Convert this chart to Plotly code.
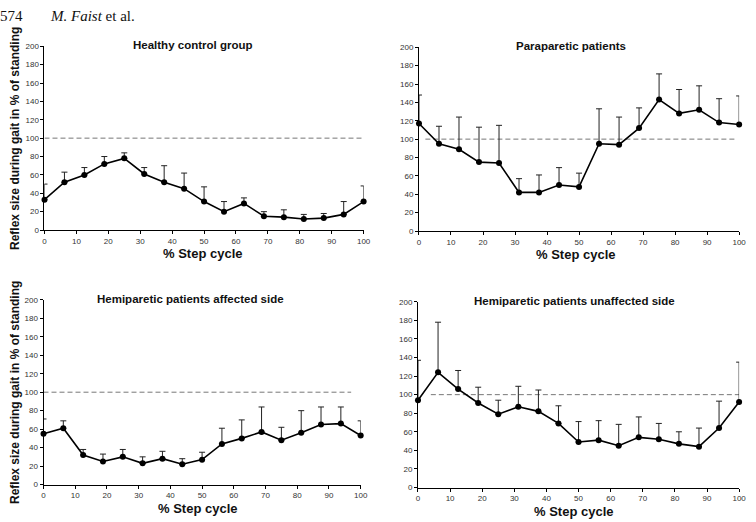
import plotly.graph_objects as go

step = [0, 6.25, 12.5, 18.75, 25, 31.25, 37.5, 43.75, 50, 56.25, 62.5, 68.75, 75, 81.25, 87.5, 93.75, 100]

healthy_mean = [33, 52, 60, 72, 78, 61, 52, 45, 31, 20, 29, 15, 14, 12, 13, 17, 31]
healthy_upper = [50, 63, 68, 80, 84, 68, 70, 62, 47, 31, 35, 20, 22, 17, 18, 31, 48]

para_mean = [117, 95, 89, 75, 74, 42, 42, 50, 48, 95, 94, 112, 143, 128, 132, 118, 116]
para_upper = [148, 114, 124, 113, 115, 57, 61, 69, 63, 133, 124, 134, 171, 154, 158, 144, 147]

hemi_aff_mean = [55, 61, 32, 25, 30, 23, 28, 22, 27, 44, 50, 57, 48, 56, 65, 66, 53]
hemi_aff_upper = [71, 69, 38, 33, 38, 30, 36, 28, 35, 61, 70, 84, 62, 80, 84, 84, 69]

hemi_unaff_mean = [94, 124, 106, 91, 79, 87, 82, 69, 49, 51, 45, 54, 52, 47, 44, 64, 92]
hemi_unaff_upper = [137, 178, 126, 108, 94, 109, 105, 88, 71, 72, 68, 76, 69, 60, 64, 93, 135]

panel_titles = ["Healthy control group", "Paraparetic patients",
                "Hemiparetic patients affected side", "Hemiparetic patients unaffected side"]
x_title = "% Step cycle"
y_title = "Reflex size during gait in % of standing"
x_ticks = [0, 10, 20, 30, 40, 50, 60, 70, 80, 90, 100]
y_ticks = [0, 20, 40, 60, 80, 100, 120, 140, 160, 180, 200]
reference_level = 100

W, H = 756, 522
# pixel boxes: left, right, top, bottom
boxes = [(43, 366, 43, 230), (422, 746, 44, 231), (42, 363, 301, 489), (421, 746, 303, 492)]
title_cx = [193, 576, 191, 579]
xtitle_cx = [203, 581, 198, 579]
series = [(healthy_mean, healthy_upper), (para_mean, para_upper),
          (hemi_aff_mean, hemi_aff_upper), (hemi_unaff_mean, hemi_unaff_upper)]
dash_ranges = [(0, 100), (2, 99), (0, 97), (4, 100)]

fig = go.Figure()
layout = dict(width=W, height=H, margin=dict(l=0, r=0, t=0, b=0),
              paper_bgcolor="white", plot_bgcolor="white", showlegend=False)
annotations = []
FONT = "Liberation Sans, Arial, sans-serif"

for i, ((l, r, t, b), (m, u), title, dr) in enumerate(zip(boxes, series, panel_titles, dash_ranges)):
    n = "" if i == 0 else str(i + 1)
    xa, ya = "x" + n, "y" + n
    layout["xaxis" + n] = dict(domain=[l / W, r / W], range=[0, 100], anchor=ya,
                               tickvals=x_ticks, ticks="outside", ticklen=3, tickwidth=1,
                               tickcolor="black", showline=True, linecolor="black", linewidth=1,
                               showgrid=False, zeroline=False,
                               tickfont=dict(family=FONT, size=8, color="#333"))
    layout["yaxis" + n] = dict(domain=[1 - b / H, 1 - t / H], range=[0, 200], anchor=xa,
                               tickvals=y_ticks, ticks="outside", ticklen=3, tickwidth=1,
                               tickcolor="black", showline=True, linecolor="black", linewidth=1,
                               showgrid=False, zeroline=False,
                               tickfont=dict(family=FONT, size=8, color="#333"))
    fig.add_trace(go.Scatter(x=list(dr), y=[reference_level, reference_level], mode="lines",
                             line=dict(color="#777", width=1, dash="5px,3px"),
                             xaxis=xa, yaxis=ya, hoverinfo="skip"))
    fig.add_trace(go.Scatter(x=step, y=m, mode="lines+markers",
                             line=dict(color="black", width=1.6),
                             marker=dict(color="black", size=6),
                             error_y=dict(type="data", symmetric=False,
                                          array=[uu - mm for uu, mm in zip(u, m)],
                                          arrayminus=[0] * len(m),
                                          color="#222", thickness=1, width=3),
                             cliponaxis=False, xaxis=xa, yaxis=ya))
    annotations.append(dict(text="<b>%s</b>" % title, x=title_cx[i] / W, y=1 - (t - 1) / H,
                            xref="paper", yref="paper",
                            xanchor="center", yanchor="middle", showarrow=False,
                            font=dict(family=FONT, size=11.5, color="#111")))
    annotations.append(dict(text="<b>%s</b>" % x_title, x=xtitle_cx[i] / W, y=1 - (b + 24) / H,
                            xref="paper", yref="paper",
                            xanchor="center", yanchor="middle", showarrow=False,
                            font=dict(family=FONT, size=13, color="#111")))
    if i in (0, 2):
        annotations.append(dict(text="<b>%s</b>" % y_title, x=13 / W, y=1 - (t + b) / 2 / H,
                                xref="paper", yref="paper", textangle=-90,
                                xanchor="center", yanchor="middle", showarrow=False,
                                font=dict(family=FONT, size=12, color="#111")))

annotations.append(dict(text="574", x=-4 / W, y=1 - 12 / H, xref="paper", yref="paper",
                        xanchor="left", yanchor="middle", showarrow=False,
                        font=dict(family="Liberation Serif, serif", size=15, color="#111")))
annotations.append(dict(text="<i>M. Faist</i> et al.", x=47 / W, y=1 - 12 / H, xref="paper", yref="paper",
                        xanchor="left", yanchor="middle", showarrow=False,
                        font=dict(family="Liberation Serif, serif", size=15, color="#111")))
layout["annotations"] = annotations
fig.update_layout(**layout)
fig.write_html("out.html")
